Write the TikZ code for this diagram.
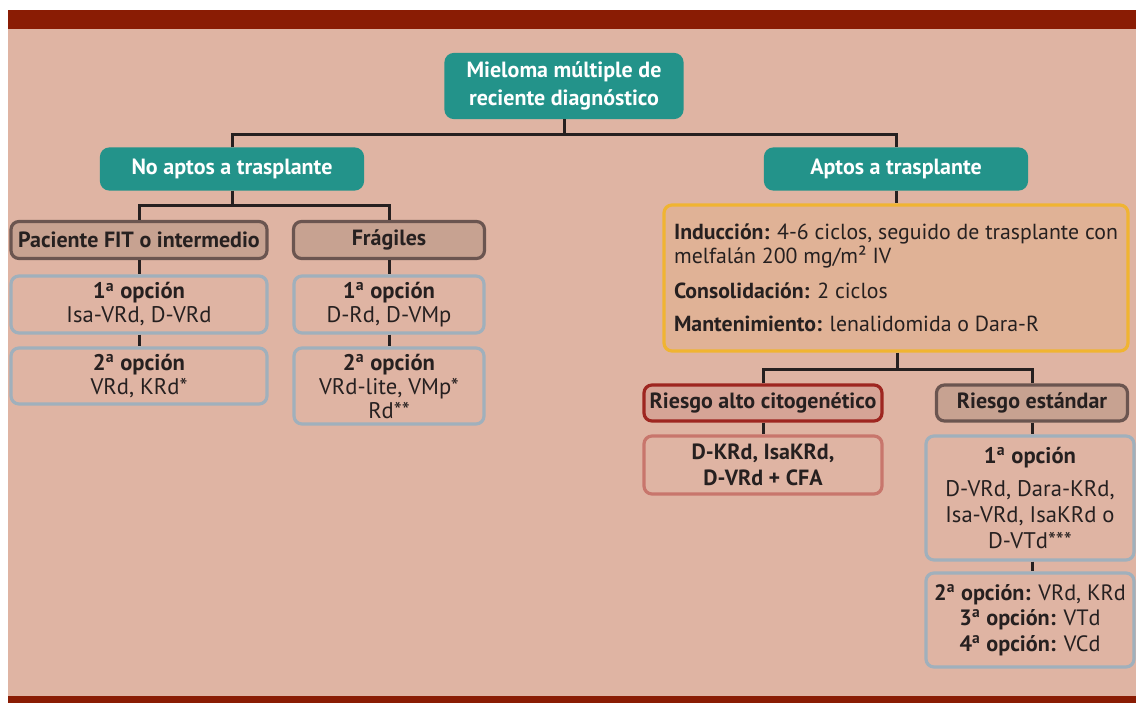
\documentclass[tikz,border=0pt]{standalone}
\usepackage{fontspec}
\setmainfont{PT Sans}
\usepackage{tikz}
\definecolor{ink}{RGB}{38,32,32}
\definecolor{peach}{RGB}{223,180,163}
\definecolor{barred}{RGB}{138,28,4}
\definecolor{tealc}{RGB}{35,147,138}
\definecolor{brownfill}{RGB}{199,162,145}
\definecolor{brownline}{RGB}{107,85,80}
\definecolor{optline}{RGB}{160,176,188}
\definecolor{yelline}{RGB}{240,180,50}
\definecolor{yelfill}{RGB}{224,178,150}
\definecolor{altoline}{RGB}{158,38,32}
\definecolor{altofill}{RGB}{214,164,150}
\definecolor{altolight}{RGB}{200,118,108}

\begin{document}
\begin{tikzpicture}[x=0.5pt,y=-0.5pt]
	\useasboundingbox (0,0) rectangle (1136,703);
	\fill[peach] (8,10) rectangle (1136,703);
	\fill[barred] (8,10) rectangle (1136,29); \fill[barred] (8,696) rectangle (1136,703);
	\tikzstyle{box} = [draw, rounded corners=4pt, line width=1.6pt, align=center, inner sep=0pt, text=ink, font=\fontsize{11.3}{12}\selectfont]
	\tikzstyle{tealbox} = [box, draw=tealc, fill=tealc, text=white, font=\bfseries\fontsize{11}{14}\selectfont]
	\tikzstyle{brownbox} = [box, draw=brownline, fill=brownfill, font=\bfseries\fontsize{11}{13}\selectfont]
	\tikzstyle{optbox} = [box, draw=optline, fill=peach]
	\tikzstyle{link} = [draw=ink, line width=1.5pt]
	% root and the two branches
	\node[tealbox, minimum width=118pt, minimum height=31.5pt] (root) at (564,86) {Mieloma múltiple de\\reciente diagnóstico};
	\node[tealbox, minimum width=130.5pt, minimum height=20pt] (noapt) at (232,169) {No aptos a trasplante};
	\node[tealbox, minimum width=130.5pt, minimum height=20pt] (apt) at (896,169) {Aptos a trasplante};
	% no aptos
	\node[brownbox, minimum width=128pt, minimum height=18.5pt] (fit) at (139,240) {Paciente FIT o intermedio};
	\node[brownbox, minimum width=95.5pt, minimum height=18.5pt] (frag) at (389,240) {Frágiles};
	\node[optbox, minimum width=128pt, minimum height=28.5pt] (fit1) at (139,304.5) {\textbf{1\textsuperscript{a} opción}\\Isa-VRd, D-VRd};
	\node[optbox, minimum width=128pt, minimum height=28pt] (fit2) at (139,376) {\textbf{2\textsuperscript{a} opción}\\VRd, KRd*};
	\node[optbox, minimum width=95pt, minimum height=28.5pt] (frag1) at (389,304.5) {\textbf{1\textsuperscript{a} opción}\\D-Rd, D-VMp};
	\node[optbox, minimum width=95pt, minimum height=38pt] (frag2) at (389,386) {\textbf{2\textsuperscript{a} opción}\\VRd-lite, VMp*\\Rd**};
	% aptos
	\node[box, draw=yelline, fill=yelfill, align=left, minimum width=232pt, minimum height=73pt, font=\fontsize{10.9}{12}\selectfont] (induc) at (896,278) {\textbf{Inducción:} 4-6 ciclos, seguido de trasplante con\\melfalán 200 mg/m² IV\\[5.5pt]\textbf{Consolidación:} 2 ciclos\\[4.5pt]\textbf{Mantenimiento:} lenalidomida o Dara-R};
	\node[brownbox, draw=altoline, fill=altofill, minimum width=119pt, minimum height=18pt] (alto) at (763,403) {Riesgo alto citogenético};
	\node[brownbox, minimum width=95.5pt, minimum height=18pt] (estd) at (1032,403) {Riesgo estándar};
	\node[optbox, draw=altolight, minimum width=119pt, minimum height=29pt, font=\bfseries\fontsize{11}{13}\selectfont] (alto1) at (763,465) {D-KRd, IsaKRd,\\D-VRd + CFA};
	\node[optbox, minimum width=104pt, minimum height=62pt, font=\fontsize{11.3}{13}\selectfont] (estd1) at (1030,498) {\textbf{1\textsuperscript{a} opción}\\[3.5pt]D-VRd, Dara-KRd,\\Isa-VRd, IsaKRd o\\D-VTd***};
	\node[optbox, minimum width=104pt, minimum height=47pt, font=\fontsize{11.1}{12.8}\selectfont] (estd2) at (1030,620) {\textbf{2\textsuperscript{a} opción:} VRd, KRd\\\textbf{3\textsuperscript{a} opción:} VTd\\\textbf{4\textsuperscript{a} opción:} VCd};
	% connectors
	\coordinate (j0) at (564,134); \coordinate (j1) at (232,205); \coordinate (j2) at (897,369);
	\draw[link] (root.south) -- (j0); \draw[link] (noapt.north) |- (j0) -| (apt.north);
	\draw[link] (noapt.south) -- (j1); \draw[link] (fit.north) |- (j1) -| (frag.north);
	\draw[link] (fit.south) -- (fit1.north); \draw[link] (fit1.south) -- (fit2.north);
	\draw[link] (frag.south) -- (frag1.north); \draw[link] (frag1.south) -- (frag2.north);
	\draw[link] (apt.south) -- (apt.south |- induc.north);
	\draw[link] (induc.south -| j2) -- (j2); \draw[link] (alto.north) |- (j2) -| (estd.north);
	\draw[link] (alto.south) -- (alto1.north);
	\draw[link] (estd.south) -- (estd.south |- estd1.north); \draw[link] (estd.south |- estd1.south) -- (estd.south |- estd2.north);
\end{tikzpicture}
\end{document}
